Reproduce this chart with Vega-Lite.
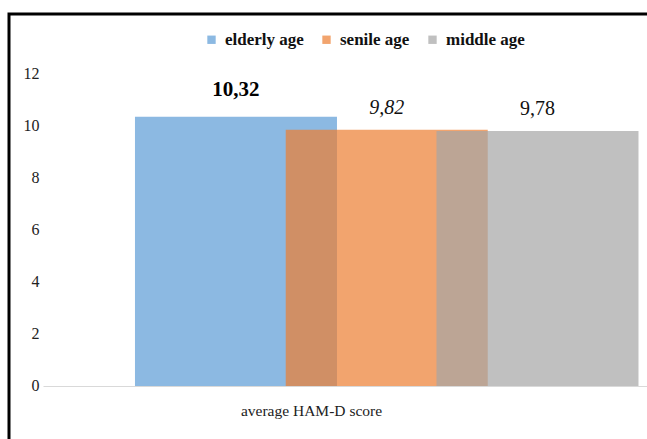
{
  "$schema": "https://vega.github.io/schema/vega-lite/v6.json",
  "width": 638,
  "height": 425,
  "autosize": {"type": "none"},
  "padding": {"left": 9, "top": 14, "right": 0, "bottom": 0},
  "background": "#ffffff",
  "config": {
    "view": {"stroke": "#000000", "strokeWidth": 3, "strokeDash": [638, 1063, 425], "strokeCap": "square"},
    "font": "Liberation Serif"
  },
  "data": {
    "values": [
      {"group": "elderly age", "value": 10.32},
      {"group": "senile age", "value": 9.82},
      {"group": "middle age", "value": 9.78}
    ]
  },
  "transform": [
    {"calculate": "replace(format(datum.value, '.2f'), '.', ',')", "as": "label"}
  ],
  "encoding": {
    "x": {
      "field": "group",
      "type": "nominal",
      "sort": ["elderly age", "senile age", "middle age"],
      "scale": {
        "type": "band",
        "range": [34, 638],
        "paddingInner": 0,
        "paddingOuter": 0.5033,
        "align": 0.775
      },
      "axis": {
        "orient": "bottom",
        "offset": -53,
        "labels": false,
        "ticks": false,
        "grid": false,
        "domainColor": "#d9d9d9",
        "domainWidth": 1,
        "title": "average HAM-D score",
        "titleFont": "Liberation Serif",
        "titleFontWeight": "normal",
        "titleFontSize": 15.5,
        "titleColor": "#222222",
        "titleX": 302,
        "titleY": 24,
        "titleAlign": "center",
        "titleBaseline": "middle"
      }
    },
    "y": {
      "field": "value",
      "type": "quantitative",
      "scale": {"domain": [-2.032, 14.262], "nice": false, "zero": false},
      "axis": {
        "values": [0, 2, 4, 6, 8, 10, 12],
        "offset": 0,
        "domain": false,
        "ticks": false,
        "grid": false,
        "title": null,
        "labelFont": "Liberation Serif",
        "labelFontSize": 16,
        "labelColor": "#222222",
        "labelAlign": "right",
        "labelPadding": -30
      }
    }
  },
  "layer": [
    {
      "mark": {"type": "bar", "width": {"band": 1.34}, "opacity": 0.7},
      "encoding": {
        "y2": {"datum": 0},
        "color": {
          "field": "group",
          "type": "nominal",
          "scale": {
            "domain": ["elderly age", "senile age", "middle age"],
            "range": ["#5B9BD5", "#ED7D31", "#A5A5A5"]
          },
          "legend": {
            "orient": "none",
            "legendX": 194,
            "legendY": 17,
            "direction": "horizontal",
            "title": null,
            "symbolType": "square",
            "symbolSize": 70,
            "symbolOpacity": 0.7,
            "symbolStrokeWidth": 0,
            "labelFont": "Liberation Serif",
            "labelFontWeight": "bold",
            "labelFontSize": 17,
            "labelColor": "#111111",
            "labelOffset": 5,
            "columnPadding": 14
          }
        }
      }
    },
    {
      "transform": [{"filter": "datum.group === 'elderly age'"}],
      "mark": {"type": "text", "fontSize": 21, "fontWeight": "bold", "baseline": "alphabetic", "dy": -21, "color": "#000000"},
      "encoding": {"text": {"field": "label"}}
    },
    {
      "transform": [{"filter": "datum.group === 'senile age'"}],
      "mark": {"type": "text", "fontSize": 20, "fontStyle": "italic", "baseline": "alphabetic", "dy": -16, "color": "#111111"},
      "encoding": {"text": {"field": "label"}}
    },
    {
      "transform": [{"filter": "datum.group === 'middle age'"}],
      "mark": {"type": "text", "fontSize": 20, "baseline": "alphabetic", "dy": -16, "color": "#111111"},
      "encoding": {"text": {"field": "label"}}
    }
  ]
}
